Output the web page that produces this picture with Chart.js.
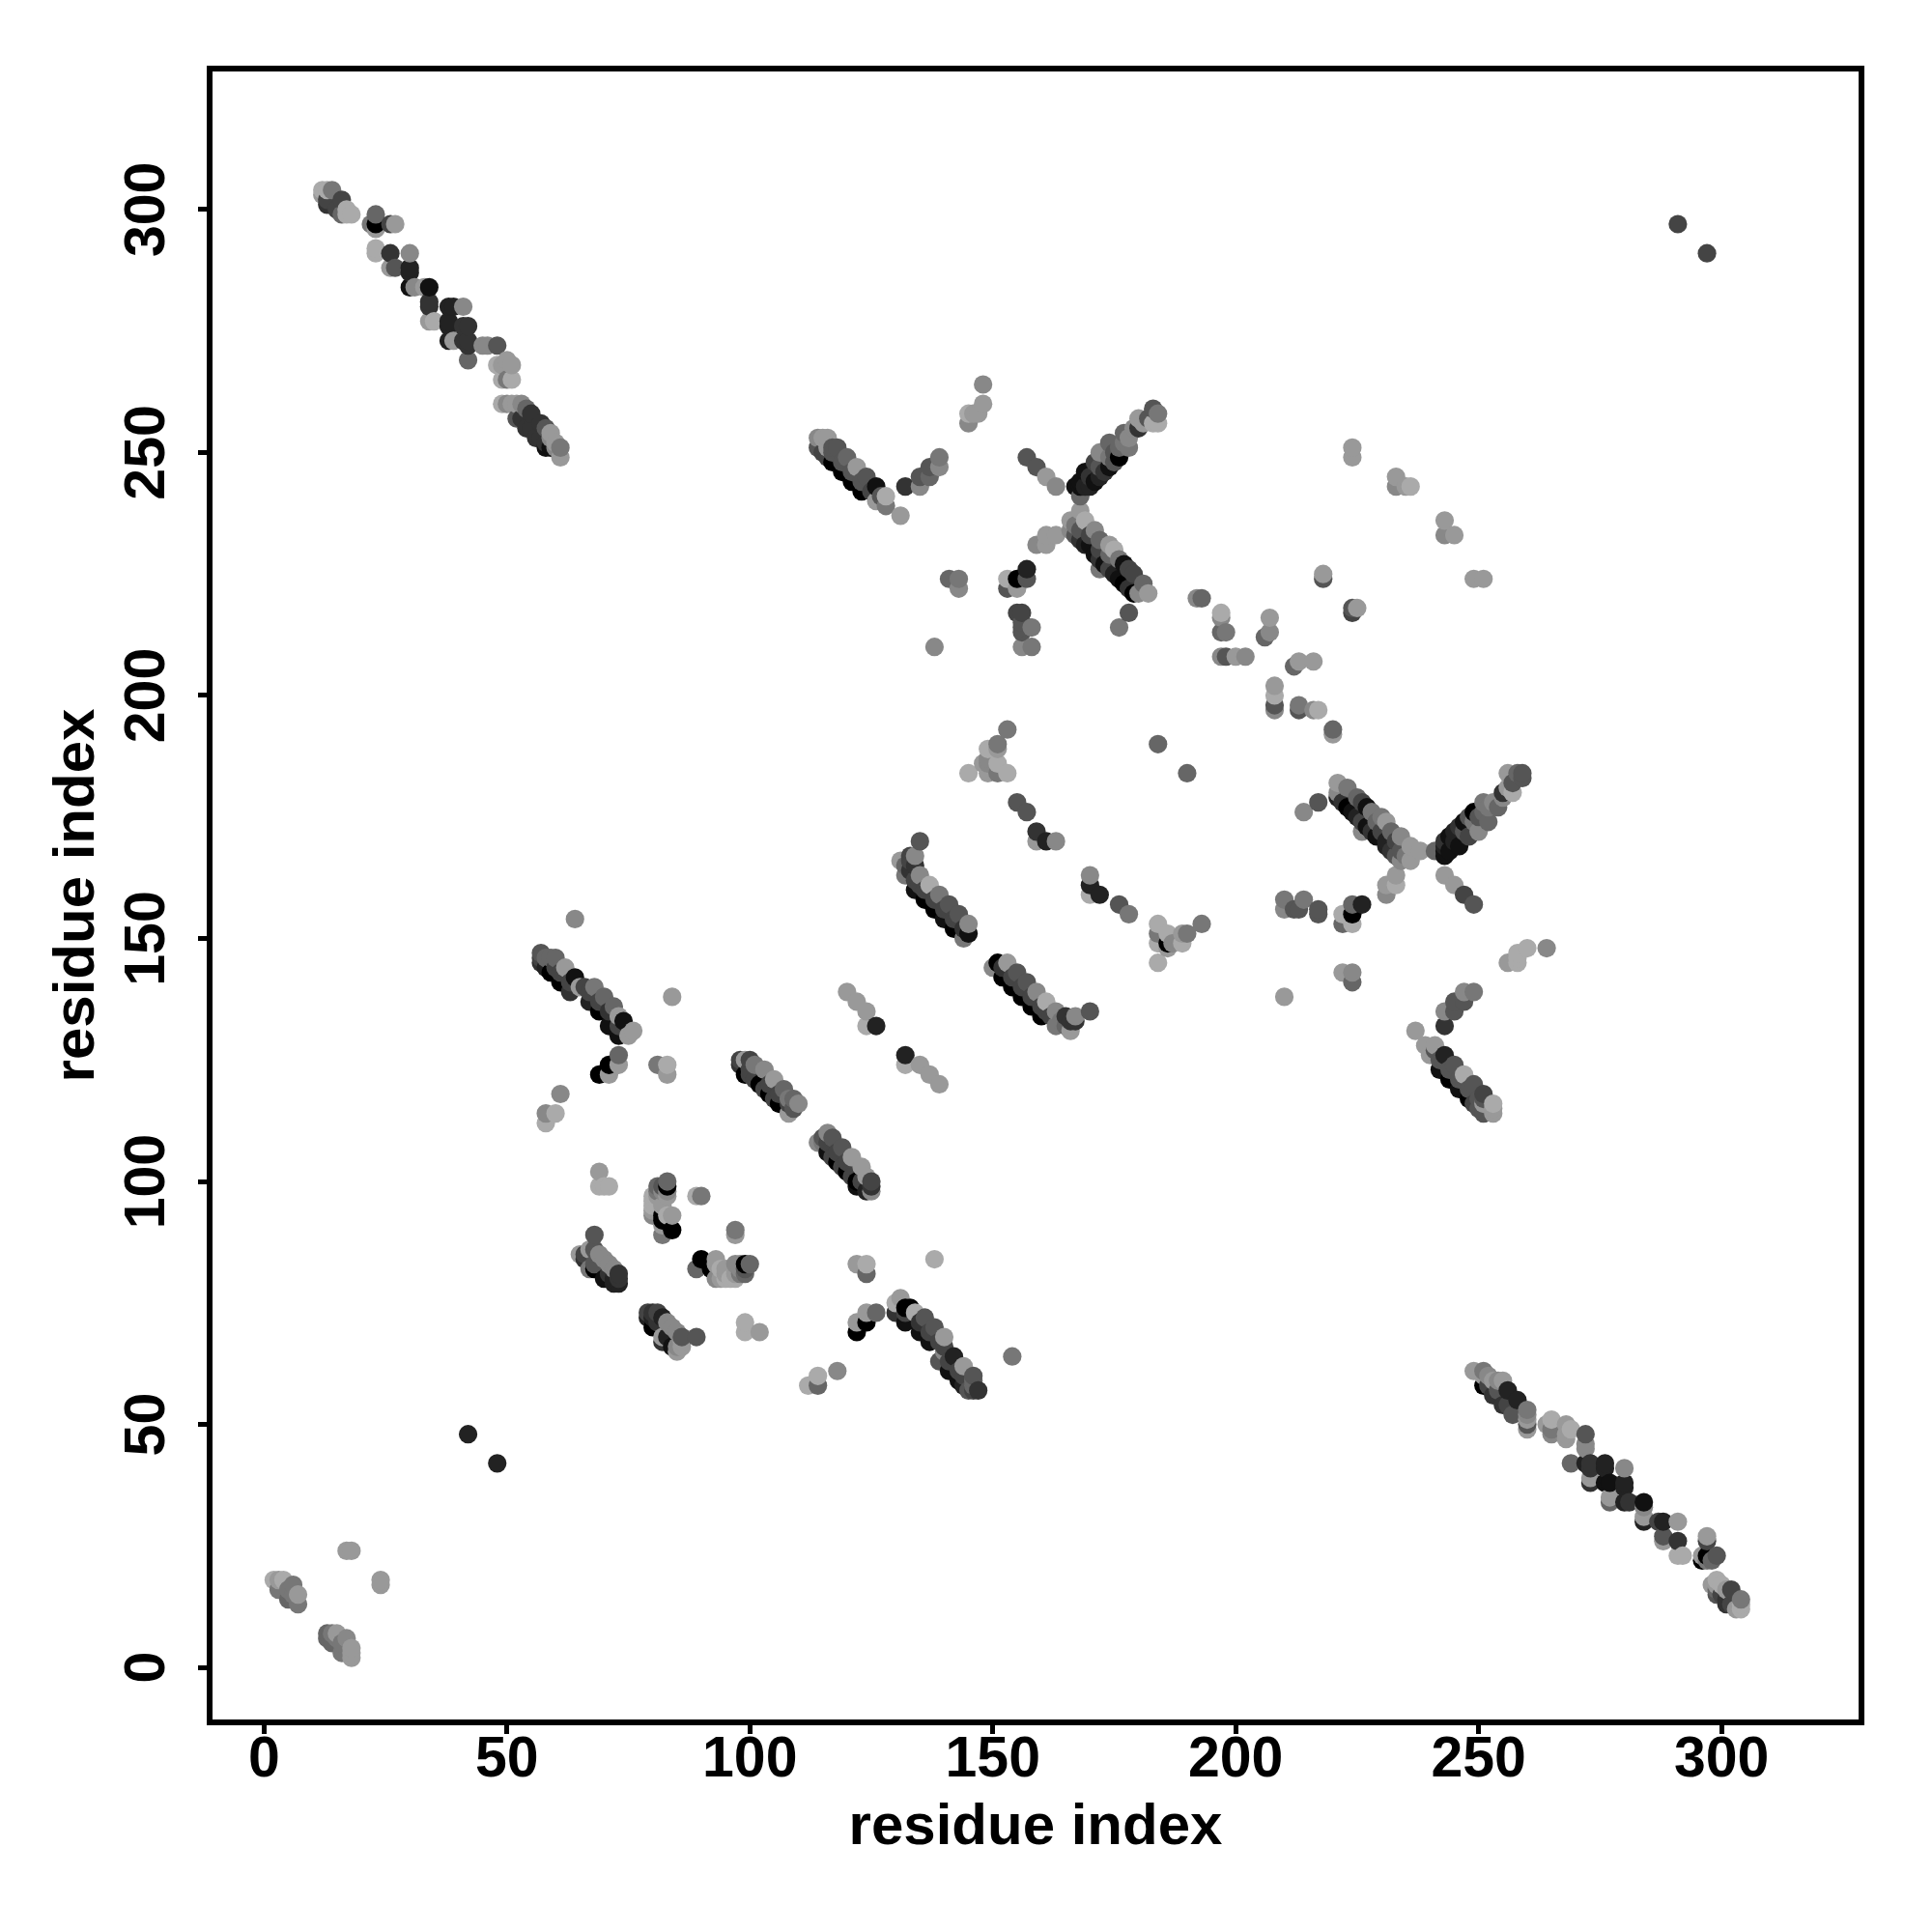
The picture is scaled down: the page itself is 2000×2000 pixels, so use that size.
<!DOCTYPE html>
<html>
<head>
<meta charset="utf-8">
<title>residue contacts</title>
<script src="https://cdn.jsdelivr.net/npm/chart.js@4/dist/chart.umd.js"></script>
<style>
  body { margin: 0; background: #fff; }
  canvas { display: block; }
</style>
</head>
<body>
<canvas id="contactChart" width="2000" height="2000"></canvas>
<script>
// ================= DATA =================
// each contact is [residue x, residue y, level], level 0 (darkest) .. 10 (palest)
const tickValues = [0, 50, 100, 150, 200, 250, 300];
const axisLabel = "residue index";

const nTermA = [[2,18,10],[3,18,9],[4,18,10],[3,16,7],[5,16,7],[6,17,7],[5,14,6],[7,15,9],[7,13,7],[6,15,7]];
const nTermB = [[13,7,6],[14,7,7],[15,7,9],[13,6,6],[14,5,6],[15,6,7],[17,6,8],[16,3,7],[16,5,7],[18,4,9],[18,3,9],[18,2,9]];
const nTermSide = [[17,24,9],[18,24,9],[24,18,9],[24,17,9],[42,48,2],[48,42,2],[291,297,4],[297,291,4]];

const longStrandUp = [[12,304,10],[13,304,10],[14,304,7],[12,303,9],[13,302,4],[13,301,3],[16,302,4],[15,300,4],[16,299,6],[17,300,10],[17,299,10],[18,299,10],
  [22,297,7],[23,296,9],[23,297,0],[23,299,6],[26,297,4],[27,297,9],[23,292,10],[23,291,10],[26,291,3],[30,291,8],[26,288,9],[27,288,5],[30,288,2],[30,287,2],
  [30,284,1],[31,284,8],[33,284,9],[34,284,1],[34,281,3],[34,280,3],[38,280,2],[39,280,2],[41,280,8],[34,277,9],[35,277,10],[38,277,2],[38,276,2],[41,276,3],[42,276,3],
  [38,273,2],[39,273,9],[41,273,3],[42,273,3],[42,272,3],[45,272,8],[46,272,8],[48,272,5],[42,269,6],[48,268,10],[49,268,9],[50,269,9],[51,268,9],[49,265,10],[50,265,7],[51,265,10],
  [49,260,10],[50,260,8],[51,260,9],[52,260,9],[53,260,8],[52,257,5],[53,257,3],[54,259,6],[55,258,3],[54,255,3],[55,255,3],[57,256,3],[56,253,3],[57,253,3],[58,255,5],[59,254,9],[59,253,8],[60,252,9],[60,251,8],[58,252,3],[58,251,1],[59,251,1],[61,251,7],[61,249,9]];
const longStrandDown = [[304,12,10],[304,13,10],[304,14,7],[303,12,9],[302,13,4],[301,13,3],[302,16,4],[300,15,4],[299,15,5],[299,16,6],[300,17,10],[299,17,9],[299,18,10],[301,14,3],[301,16,9],[298,17,9],
  [297,22,7],[296,23,9],[297,23,0],[299,23,5],[297,26,4],[297,27,9],[296,22,0],[298,22,6],[292,23,10],[291,23,10],[291,26,3],[291,30,9],[288,26,9],[288,27,5],[288,30,2],[287,30,4],
  [284,30,2],[284,31,9],[284,33,8],[284,34,1],[281,34,3],[280,34,2],[280,37,2],[280,38,2],[280,41,8],[277,34,6],[277,35,9],[277,38,1],[276,38,1],[276,41,2],[276,42,2],
  [273,38,3],[273,39,9],[273,41,3],[273,42,3],[272,42,2],[272,45,8],[272,46,8],[272,48,5],[269,42,6],[268,47,9],[268,48,9],[269,49,10],[268,50,9],[265,48,8],[265,49,7],[265,51,10],[264,50,9],
  [260,49,9],[260,50,5],[260,51,9],[260,52,8],[260,53,7],[257,52,5],[256,54,4],[255,54,3],[256,57,2],[253,56,3],[254,57,5],[258,55,2],[255,59,9],[254,59,8],[253,59,9],[252,60,8],[251,58,0],[252,58,4],[251,60,9],[251,61,7],[249,61,9]];

const sheetAUp = [[57,147,5],[57,146,4],[57,145,3],[58,146,6],[59,146,6],[60,146,6],[58,144,2],[59,143,0],[60,144,4],[61,141,0],[61,143,4],[62,144,9],[63,139,3],[63,141,4],[64,142,1],
  [65,140,9],[66,140,4],[67,137,2],[67,139,4],[68,140,7],[69,135,0],[69,137,4],[70,138,6],[71,132,1],[71,135,3],[72,136,6],[73,130,1],[73,134,9],[73,132,4],[74,133,1],[75,130,9],[76,131,9],
  [73,126,6],[73,124,9],[71,124,0],[71,122,9],[69,122,0],[64,154,8],[84,138,9],[81,124,7],[83,124,10],[83,122,9],[61,118,8],[58,114,8],[60,114,10],[58,112,10]];
const sheetADown = [[147,57,3],[146,57,4],[145,57,5],[146,58,6],[146,59,6],[146,60,5],[144,58,2],[143,59,1],[144,60,4],[141,61,1],[143,61,4],[144,62,9],[139,63,5],[141,63,4],[142,64,2],
  [140,65,8],[140,66,4],[137,67,1],[139,67,4],[140,68,9],[135,69,1],[137,69,4],[138,70,5],[132,71,1],[135,71,3],[136,72,5],[130,73,3],[134,73,10],[132,73,4],[133,74,0],[132,74,0],[130,75,10],[131,76,9],
  [126,73,6],[124,73,9],[124,71,0],[122,71,9],[122,69,0],[154,64,7],[138,84,10],[124,81,6],[124,83,10],[122,83,9],[118,61,8],[114,58,6],[114,60,10],[112,58,10]];

const sheetBUp = [[98,125,4],[98,124,3],[99,125,9],[100,125,4],[100,123,4],[101,124,7],[99,122,0],[100,122,4],[101,121,4],[102,120,0],[103,123,8],[103,119,4],[104,118,0],[104,120,4],[105,121,9],[105,117,4],[106,116,0],[106,118,4],[107,119,6],[108,117,7],[108,116,4],[108,114,9],[109,115,5],[109,117,6],[110,116,8],
  [120,139,9],[122,137,9],[124,135,9],[124,132,10],[126,132,2]];
const sheetBDown = [[125,98,8],[124,98,2],[125,99,3],[125,100,4],[123,100,4],[124,101,9],[122,100,0],[122,99,1],[121,101,4],[120,102,0],[123,103,9],[119,103,4],[118,104,0],[120,104,4],[121,105,9],[117,105,4],[116,106,1],[118,106,4],[119,107,5],[117,109,5],[116,108,4],[114,108,8],[115,109,5],[116,110,8],[115,108,7],
  [139,120,9],[137,122,9],[135,124,9],[132,124,10],[132,126,2]];

const sheetCUp = [[65,85,9],[66,85,4],[66,84,3],[67,86,9],[67,82,7],[68,89,5],[68,86,5],[68,83,5],[68,82,0],[69,85,8],[70,84,8],[70,80,1],[71,83,8],[72,82,8],[72,79,2],[72,80,2],[71,81,3],[73,81,3],[73,79,2],[73,80,3],[69,102,9],[69,99,10],[70,99,10],[71,99,10]];
const sheetCDown = [[85,65,9],[85,66,8],[84,66,1],[86,67,9],[82,67,3],[89,68,5],[86,68,5],[83,68,2],[82,68,9],[85,69,8],[84,70,8],[80,70,0],[83,71,8],[82,72,2],[79,72,2],[80,72,2],[81,71,3],[81,73,4],[79,73,4],[80,73,3],[86,66,9],[102,69,9],[99,69,10],[99,71,10]];

const clusterUp = [[83,100,6],[81,99,6],[82,99,5],[83,99,0],[81,98,7],[82,98,8],[83,98,8],[81,97,9],[83,97,9],[80,97,10],[80,96,10],[80,95,10],[80,94,9],[81,95,10],[82,95,9],[80,93,8],[82,93,0],[82,92,0],[83,93,10],[84,93,9],[82,91,9],[82,89,7],[84,90,0],[89,97,10],[90,97,7]];
const clusterDown = [[100,83,6],[99,81,6],[99,82,5],[99,83,0],[98,81,7],[98,82,8],[98,83,8],[97,81,9],[97,83,8],[97,80,10],[96,80,10],[95,80,10],[94,80,9],[95,81,9],[95,82,9],[93,80,8],[92,82,0],[93,83,9],[93,84,9],[94,82,10],[90,84,0],[89,82,6],[97,90,7],[97,89,9]];

const helixUp = [[114,253,8],[115,253,9],[116,253,9],[114,251,5],[115,250,4],[116,251,9],[117,251,5],[118,251,5],[116,249,4],[117,248,0],[117,250,5],[119,246,0],[119,248,5],[120,249,6],[121,244,0],[121,246,5],[122,247,9],[123,242,0],[123,244,5],[124,245,5],[125,242,4],[126,243,1],[126,240,9],[128,241,10],[128,239,7],[127,241,5],[131,237,9],
  [132,243,3],[135,243,8],[135,245,5],[137,245,6],[137,247,5],[139,247,8],[139,249,7],[145,256,8],[145,258,10],[146,258,9],[147,258,9],[148,260,9],[148,264,8]];
const helixDown = [[253,114,9],[253,115,9],[253,116,10],[251,114,5],[250,115,5],[251,116,9],[251,117,5],[251,118,4],[249,116,4],[248,117,0],[250,117,5],[246,119,1],[248,119,5],[249,120,5],[244,121,0],[246,121,5],[247,122,10],[242,123,1],[244,123,5],[245,124,5],[242,125,5],[243,126,2],[240,126,9],[241,128,9],[239,128,9],[241,127,5],[237,131,9],
  [243,132,3],[243,135,8],[245,135,5],[245,137,5],[247,137,5],[247,139,8],[249,139,7],[256,145,9],[258,145,10],[258,146,10],[258,147,10],[260,148,10],[264,148,8]];

const parallelUp = [[131,166,9],[133,167,4],[134,167,8],[133,166,4],[132,165,6],[132,163,7],[133,164,3],[134,165,3],[135,163,8],[135,170,5],[134,162,4],[134,160,1],[135,161,4],[136,158,0],[136,160,4],[137,161,10],[138,156,0],[138,158,4],[139,159,7],[140,154,1],[140,156,4],[141,157,5],[142,152,0],[142,154,4],[143,155,5],[144,150,7],[144,152,3],[145,151,1],[145,153,8],
  [155,178,5],[157,176,5],[159,172,3],[159,170,9],[161,170,2],[163,170,8]];
const parallelDown = [[166,131,9],[167,133,3],[167,134,8],[166,133,3],[165,132,6],[163,132,7],[164,133,7],[165,134,3],[163,135,8],[170,135,5],[162,134,4],[160,134,0],[161,135,4],[158,136,0],[160,136,4],[161,137,10],[156,138,0],[158,138,4],[159,139,8],[154,140,0],[156,140,4],[157,141,5],[152,142,0],[154,142,4],[155,143,5],[150,144,8],[152,144,3],[151,145,0],[153,145,9],
  [178,155,7],[176,157,5],[172,159,2],[170,159,10],[170,161,2],[170,163,8]];

const crossLowUp = [[166,236,9],[166,234,8],[167,235,7],[167,233,5],[168,234,5],[168,232,3],[169,236,10],[169,231,2],[170,233,4],[170,231,1],[171,234,8],[171,229,1],[172,232,6],[172,230,4],[172,228,3],[172,226,7],[173,227,1],[174,231,9],[174,229,6],[174,226,4],[175,225,2],[175,230,10],[176,224,1],[176,228,7],[177,223,0],[177,227,1],[178,222,3],[178,226,4],[179,225,4],[179,221,0],[180,221,8],[181,223,6],[182,221,9],[168,241,6],[168,238,9],[178,217,5],[176,214,7]];
const crossLowDown = [[236,166,9],[234,166,8],[235,167,7],[233,167,5],[234,168,5],[232,168,3],[236,169,9],[231,169,2],[233,170,4],[231,170,2],[234,171,8],[229,171,1],[232,172,6],[230,172,4],[228,172,3],[226,172,8],[227,173,1],[231,174,9],[229,174,6],[226,174,4],[225,175,2],[230,175,7],[224,176,1],[228,176,7],[223,177,0],[227,177,1],[222,178,3],[226,178,4],[225,179,6],[221,179,2],[221,180,8],[223,181,7],[221,182,9],[241,168,6],[238,168,9],[217,178,5],[214,176,8]];

const crossHighUp = [[167,243,1],[168,243,1],[168,244,1],[169,243,2],[169,246,1],[170,243,2],[170,245,3],[171,244,1],[171,248,4],[172,245,2],[172,250,8],[172,247,5],[173,246,3],[174,247,1],[174,249,7],[174,252,6],[175,250,5],[175,248,5],[176,249,0],[176,251,6],[177,254,6],[177,252,7],[178,253,8],[178,251,7],[179,255,8],[180,257,9],[180,255,3],[181,256,9],[182,257,5],[183,259,5],[183,256,10],[184,258,7],[184,256,10]];
const crossHighDown = [[243,167,1],[243,168,1],[244,168,1],[243,169,2],[246,169,1],[243,170,3],[245,170,2],[244,171,1],[248,171,4],[245,172,2],[250,172,8],[247,172,5],[246,173,3],[247,174,1],[249,174,7],[252,174,6],[250,175,5],[248,175,5],[249,176,0],[251,176,6],[254,177,6],[252,177,7],[253,178,8],[251,178,7],[255,179,8],[257,180,10],[255,180,3],[256,181,9],[257,182,5],[259,183,5],[256,184,9],[258,184,6],[259,184,5]];

const sideLoopsUp = [[141,224,6],[143,224,7],[143,222,8],[138,210,8],[153,224,10],[155,224,0],[157,224,5],[157,226,2],[153,222,5],[155,222,9],[155,217,4],[156,217,4],[156,215,5],[156,214,5],[156,213,5],[158,214,7],[156,210,8],[158,210,7],[157,249,5],[159,247,5],[161,245,9],[163,243,8],[159,231,8],[161,231,9],[161,233,9],[163,233,9],
  [145,184,10],[149,184,9],[151,184,7],[153,184,10],[149,186,8],[151,186,10],[148,186,9],[149,187,8],[151,189,9],[149,189,10],[151,190,7],[153,193,7],[184,190,6],[190,184,6]];
const sideLoopsDown = [[224,141,6],[224,143,8],[222,143,9],[210,138,9],[224,153,10],[224,155,0],[224,157,6],[226,157,2],[222,153,6],[222,155,10],[217,155,5],[217,156,5],[210,158,7],[210,156,8],[214,158,7],[213,156,5],[212,156,5],[249,157,5],[247,159,4],[245,161,9],[243,163,9],[231,159,8],[231,161,9],[233,161,10],[233,163,9],
  [184,153,10],[184,151,7],[184,149,10],[186,151,10],[186,149,0],[187,149,8],[186,148,9],[189,151,9],[189,149,10],[190,151,7],[193,153,7],[184,145,10]];

const nearDiagonal = [[192,220,8],[193,220,6],[197,217,10],[197,216,8],[197,213,6],[198,213,7],[197,208,8],[198,208,5],[200,208,9],[202,208,8],[206,212,6],[207,213,8],[207,216,9],[208,202,9],[208,200,10],[208,198,5],[208,197,8],[212,206,6],[213,207,9],[216,207,9],[213,198,7],[213,197,5],[216,197,8],[217,197,10],[220,193,6],[220,192,9],
  [218,224,5],[218,225,9],[224,218,5],[224,217,4],[225,218,9],[224,251,9],[224,249,9],[233,245,9],[233,243,8],[235,243,9],[236,243,10],[243,236,9],[243,233,8],[245,233,9],[249,224,9],[251,224,9]];

const allContacts = [nTermA, nTermB, nTermSide, longStrandUp, longStrandDown, sheetAUp, sheetADown, sheetBUp, sheetBDown,
  sheetCUp, sheetCDown, clusterUp, clusterDown, helixUp, helixDown, parallelUp, parallelDown,
  crossLowUp, crossLowDown, crossHighUp, crossHighDown, sideLoopsUp, sideLoopsDown, nearDiagonal];

// ================= CHART =================
// drawn column by column, the same way the original plot overlaps its dots
const contacts = allContacts.flat().sort((a, b) => a[0] - b[0] || a[1] - b[1]);

const frame = {
  id: "frame",
  afterDraw(chart) {
    const { ctx, chartArea: a } = chart;
    ctx.save();
    ctx.strokeStyle = "#000";
    ctx.lineWidth = 6;
    ctx.strokeRect(a.left, a.top, a.right - a.left, a.bottom - a.top);
    ctx.restore();
  }
};

const tickFont = { family: "'Liberation Sans'", weight: "bold", size: 59 };
const titleFont = { family: "'Liberation Sans'", weight: "bold", size: 60 };
const tickList = scale => { scale.ticks = tickValues.map(v => ({ value: v })); };

new Chart(document.getElementById("contactChart"), {
  type: "scatter",
  plugins: [frame],
  data: {
    datasets: [{
      data: contacts.map(c => ({ x: c[0], y: c[1] })),
      backgroundColor: contacts.map(c => { const g = c[2] * 17; return `rgb(${g},${g},${g})`; }),
      pointRadius: 9.6,
      pointBorderWidth: 0
    }]
  },
  options: {
    responsive: false,
    animation: false,
    layout: { padding: { top: 71, right: 73 } },
    plugins: { legend: { display: false }, tooltip: { enabled: false } },
    scales: {
      x: {
        min: -11.2,
        max: 328.8,
        afterBuildTicks: tickList,
        afterFit: s => { s.height = 217; },
        border: { display: false },
        grid: { drawOnChartArea: false, tickLength: 12, tickWidth: 5, tickColor: "#000" },
        ticks: { color: "#000", font: tickFont, padding: -8, maxRotation: 0 },
        title: { display: true, text: axisLabel, color: "#000", font: titleFont, padding: { top: 0, bottom: 72 } }
      },
      y: {
        min: -11.3,
        max: 329,
        afterBuildTicks: tickList,
        afterFit: s => { s.width = 217; },
        border: { display: false },
        grid: { drawOnChartArea: false, tickLength: 12, tickWidth: 5, tickColor: "#000" },
        ticks: { color: "#000", font: tickFont, padding: 2, minRotation: 90, maxRotation: 90, crossAlign: "center" },
        title: { display: true, text: axisLabel, color: "#000", font: titleFont, padding: { top: 44, bottom: 0 } }
      }
    }
  }
});
</script>
</body>
</html>
